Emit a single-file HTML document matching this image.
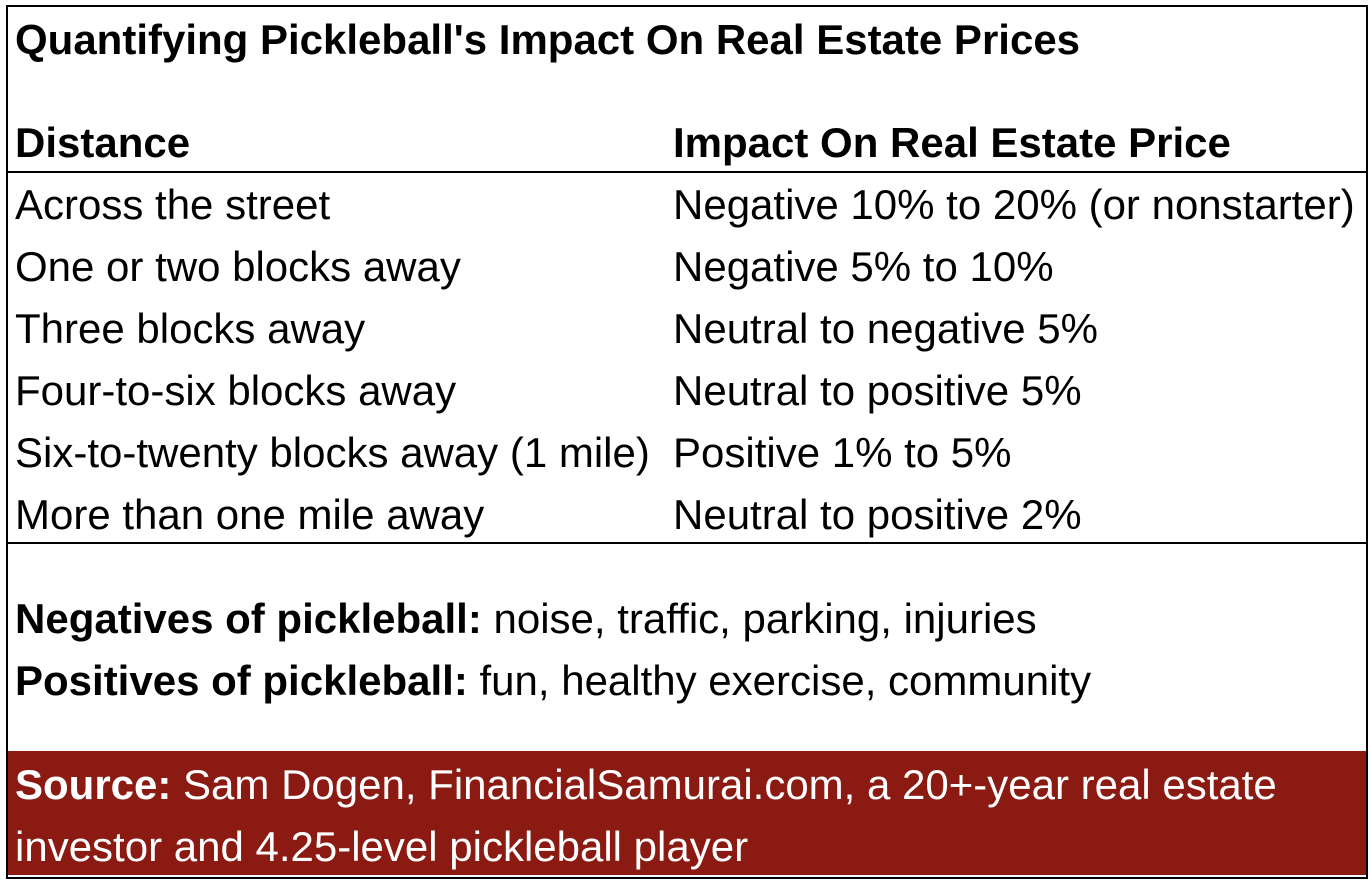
<!DOCTYPE html>
<html><head><meta charset="utf-8"><style>
body{margin:0;width:1372px;height:884px;background:#fff;position:relative;overflow:hidden;font-family:"Liberation Sans",Arial,sans-serif;color:#000}
.t{position:absolute;white-space:nowrap;line-height:62px;height:62px;font-size:42px}
.b{font-weight:bold}
.line{position:absolute;background:#000}
</style></head><body>
<div style="position:absolute;left:6px;top:5px;width:1358px;height:870px;border:2px solid #000"></div>
<div class="t b" style="left:15px;top:9px">Quantifying Pickleball's Impact On Real Estate Prices</div>
<div class="t b" style="left:15px;top:112px">Distance</div>
<div class="t b" style="left:673px;top:112px">Impact On Real Estate Price</div>
<div class="line" style="left:6px;top:171px;width:1362px;height:2px"></div>
<div class="t" style="left:15px;top:174px">Across the street</div>
<div class="t" style="left:673px;top:174px">Negative 10% to 20% (or nonstarter)</div>
<div class="t" style="left:15px;top:236px">One or two blocks away</div>
<div class="t" style="left:673px;top:236px">Negative 5% to 10%</div>
<div class="t" style="left:15px;top:298px">Three blocks away</div>
<div class="t" style="left:673px;top:298px">Neutral to negative 5%</div>
<div class="t" style="left:15px;top:360px">Four-to-six blocks away</div>
<div class="t" style="left:673px;top:360px">Neutral to positive 5%</div>
<div class="t" style="left:15px;top:422px">Six-to-twenty blocks away (1 mile)</div>
<div class="t" style="left:673px;top:422px">Positive 1% to 5%</div>
<div class="t" style="left:15px;top:484px">More than one mile away</div>
<div class="t" style="left:673px;top:484px">Neutral to positive 2%</div>
<div class="line" style="left:6px;top:542px;width:1362px;height:2px"></div>
<div class="t" style="left:15px;top:588px"><b>Negatives of pickleball:</b> noise, traffic, parking, injuries</div>
<div class="t" style="left:15px;top:650px"><b>Positives of pickleball:</b> fun, healthy exercise, community</div>
<div style="position:absolute;left:8px;top:751px;width:1358px;height:124px;background:#8B1A12"></div>
<div class="t" style="left:15px;top:754px;color:#fff"><b>Source:</b> Sam Dogen, FinancialSamurai.com, a 20+-year real estate</div>
<div class="t" style="left:15px;top:816px;color:#fff">investor and 4.25-level pickleball player</div>
</body></html>
